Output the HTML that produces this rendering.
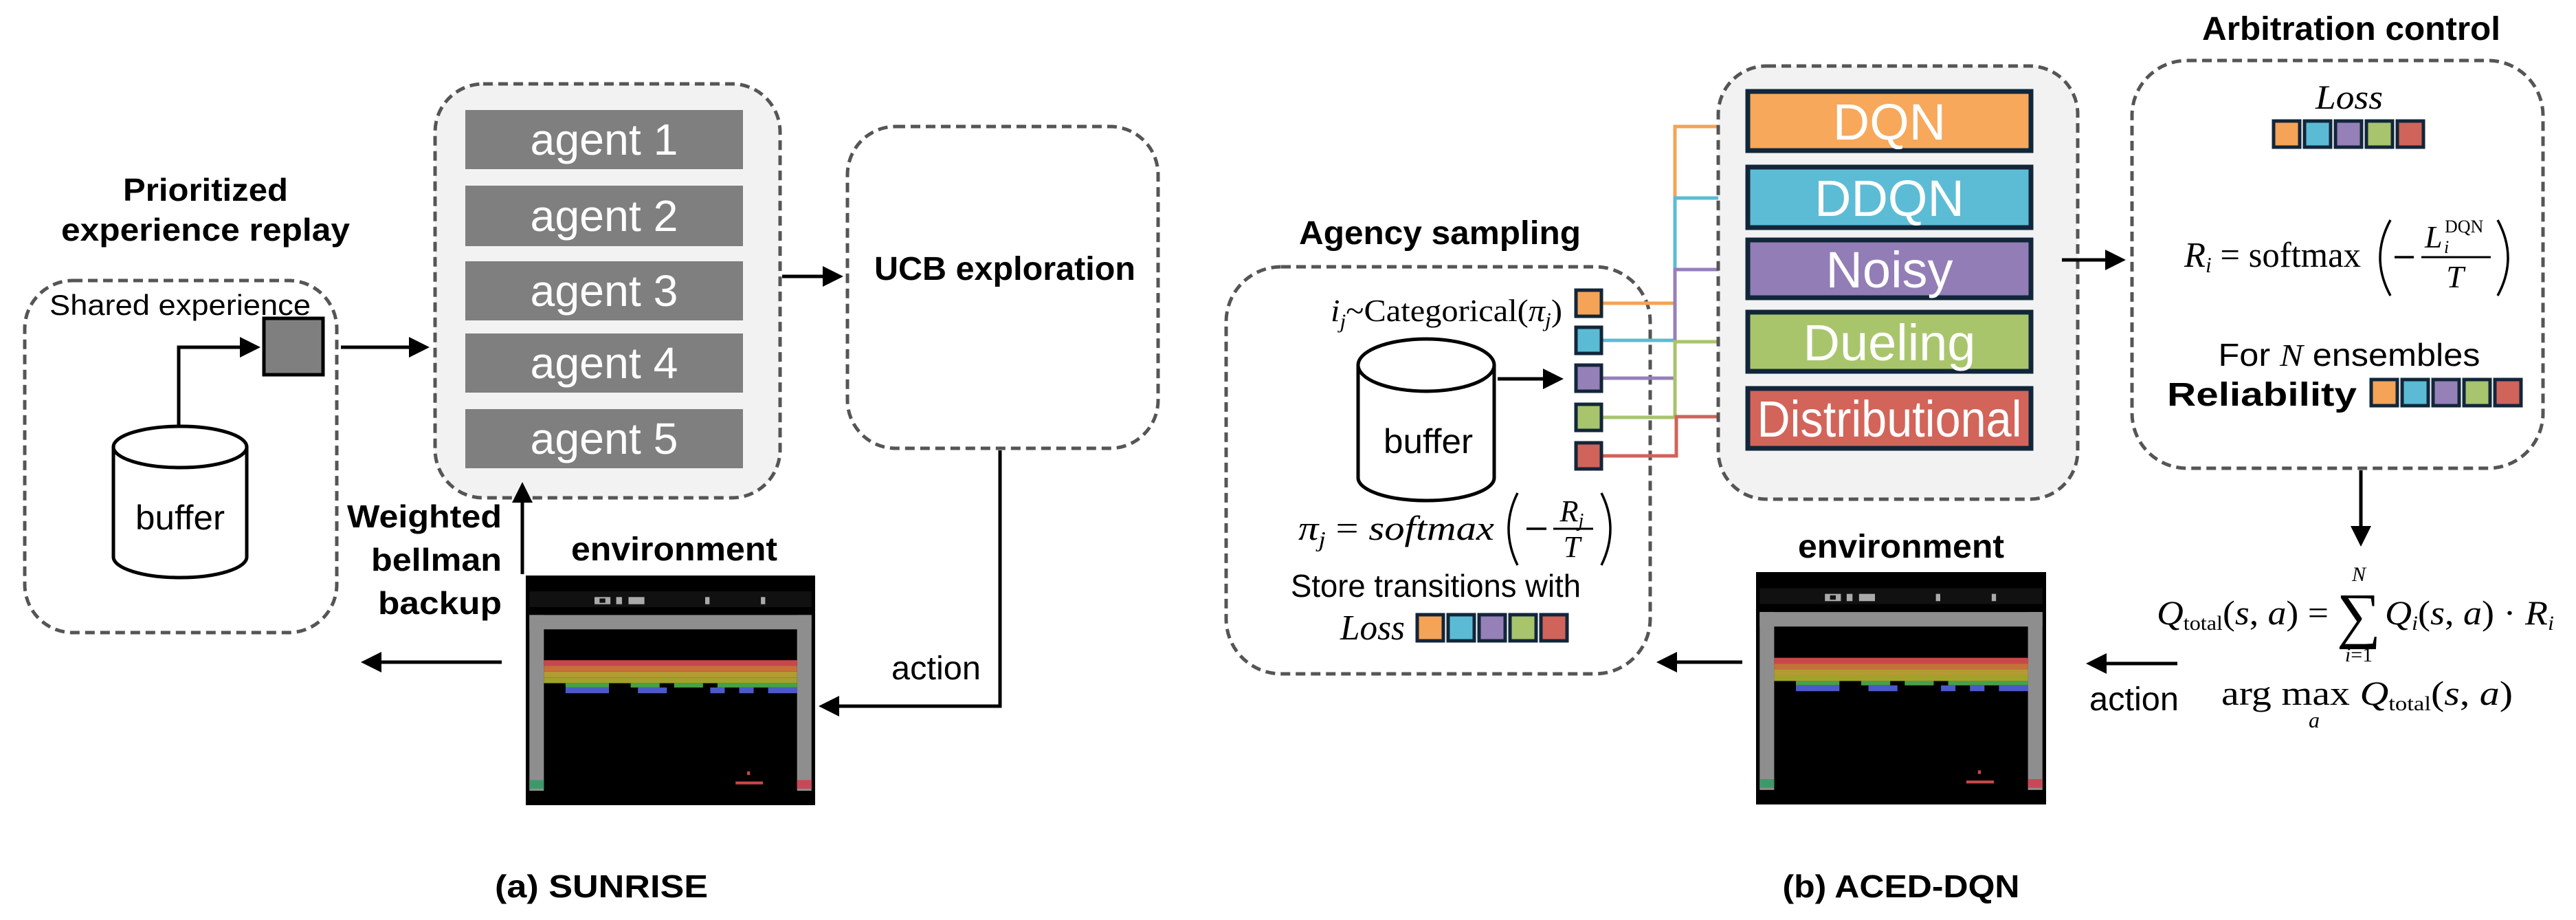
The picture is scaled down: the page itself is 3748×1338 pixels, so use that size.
<!DOCTYPE html>
<html><head><meta charset="utf-8"><style>
html,body{margin:0;padding:0;background:#fff;}
svg{display:block;}
text{font-family:"Liberation Sans",sans-serif;}
.b{font-weight:bold;}
.m{font-family:"Liberation Serif",serif;}
.i{font-style:italic;}
</style></head><body>
<svg width="3748" height="1338" viewBox="0 0 3748 1338" xmlns="http://www.w3.org/2000/svg">
<defs>
<marker id="ak" markerWidth="6" markerHeight="6" refX="5" refY="3" orient="auto" markerUnits="strokeWidth"><path d="M0,0 L6,3 L0,6 z" fill="#000"/></marker>
<marker id="ao" markerWidth="5" markerHeight="5" refX="4" refY="2.5" orient="auto" markerUnits="strokeWidth"><path d="M0,0 L5,2.5 L0,5 z" fill="#f5a356"/></marker>
<marker id="ab" markerWidth="5" markerHeight="5" refX="4" refY="2.5" orient="auto" markerUnits="strokeWidth"><path d="M0,0 L5,2.5 L0,5 z" fill="#5bbbd4"/></marker>
<marker id="ap" markerWidth="5" markerHeight="5" refX="4" refY="2.5" orient="auto" markerUnits="strokeWidth"><path d="M0,0 L5,2.5 L0,5 z" fill="#9580b8"/></marker>
<marker id="ag" markerWidth="5" markerHeight="5" refX="4" refY="2.5" orient="auto" markerUnits="strokeWidth"><path d="M0,0 L5,2.5 L0,5 z" fill="#a8c46c"/></marker>
<marker id="ar" markerWidth="5" markerHeight="5" refX="4" refY="2.5" orient="auto" markerUnits="strokeWidth"><path d="M0,0 L5,2.5 L0,5 z" fill="#d0635a"/></marker>
<symbol id="env" viewBox="0 0 400 320" preserveAspectRatio="none">
<rect width="400" height="320" fill="#000"/>
<rect x="5" y="22" width="390" height="22" fill="#111"/>
<g fill="#aaa"><rect x="95" y="30" width="22" height="10"/><rect x="102" y="32" width="8" height="6" fill="#111"/><rect x="125" y="30" width="8" height="10"/><rect x="142" y="30" width="22" height="10"/><rect x="248" y="30" width="6" height="10"/><rect x="325" y="30" width="6" height="10"/></g>
<rect x="5" y="55" width="390" height="20" fill="#8e8e8e"/>
<rect x="5" y="55" width="20" height="245" fill="#8e8e8e"/>
<rect x="375" y="55" width="20" height="245" fill="#8e8e8e"/>
<rect x="25" y="118" width="350" height="8" fill="#c8484a"/>
<rect x="25" y="126" width="350" height="8" fill="#c6703a"/>
<rect x="25" y="134" width="350" height="8" fill="#b49a32"/>
<rect x="25" y="142" width="350" height="8" fill="#a2a22a"/>
<path d="M25,150 h30 v6 h60 v-6 h30 v6 h40 v-6 h20 v6 h40 v-6 h20 v6 h110 v-6 h-350z" fill="#48a048"/>
<g fill="#4a5ac8"><rect x="55" y="156" width="60" height="8"/><rect x="155" y="156" width="40" height="8"/><rect x="255" y="156" width="20" height="8"/><rect x="295" y="156" width="20" height="8"/><rect x="335" y="156" width="40" height="8"/></g>
<rect x="5" y="285" width="20" height="12" fill="#3c9a6a"/>
<rect x="375" y="285" width="20" height="12" fill="#c84858"/>
<rect x="290" y="287" width="38" height="4" fill="#c84848"/>
<rect x="306" y="273" width="4" height="5" fill="#c84848"/>
</symbol>
</defs>

<!-- ===== (a) SUNRISE ===== -->
<text x="299" y="292" class="b" font-size="46" text-anchor="middle" textLength="240" lengthAdjust="spacingAndGlyphs">Prioritized</text>
<text x="299" y="350" class="b" font-size="46" text-anchor="middle" textLength="420" lengthAdjust="spacingAndGlyphs">experience replay</text>
<rect x="36" y="408" width="454" height="512" rx="70" fill="none" stroke="#555" stroke-width="5" stroke-dasharray="14,8"/>
<text x="262" y="458" font-size="42" text-anchor="middle" textLength="380" lengthAdjust="spacingAndGlyphs">Shared experience</text>
<rect x="384" y="463" width="86" height="82" fill="#7f7f7f" stroke="#000" stroke-width="5"/>
<path d="M260,620 V505 H374" fill="none" stroke="#000" stroke-width="5" marker-end="url(#ak)"/>
<path d="M165,650 V810 A97,30 0 0 0 359,810 V650" fill="#fff" stroke="#000" stroke-width="5"/>
<ellipse cx="262" cy="650" rx="97" ry="30" fill="#fff" stroke="#000" stroke-width="5"/>
<text x="262" y="770" font-size="50" text-anchor="middle" textLength="130" lengthAdjust="spacingAndGlyphs">buffer</text>
<line x1="496" y1="505" x2="620" y2="505" stroke="#000" stroke-width="5" marker-end="url(#ak)"/>

<rect x="633" y="122" width="502" height="602" rx="70" fill="#f2f2f2" stroke="#555" stroke-width="5" stroke-dasharray="14,8"/>
<g fill="#7f7f7f"><rect x="677" y="160" width="404" height="86"/><rect x="677" y="270" width="404" height="88"/><rect x="677" y="380" width="404" height="86"/><rect x="677" y="485" width="404" height="86"/><rect x="677" y="595" width="404" height="86"/></g>
<g fill="#fff" font-size="64" text-anchor="middle"><text x="879" y="225" textLength="215" lengthAdjust="spacingAndGlyphs">agent 1</text><text x="879" y="336" textLength="215" lengthAdjust="spacingAndGlyphs">agent 2</text><text x="879" y="445" textLength="215" lengthAdjust="spacingAndGlyphs">agent 3</text><text x="879" y="550" textLength="215" lengthAdjust="spacingAndGlyphs">agent 4</text><text x="879" y="660" textLength="215" lengthAdjust="spacingAndGlyphs">agent 5</text></g>
<line x1="1138" y1="402" x2="1222" y2="402" stroke="#000" stroke-width="5" marker-end="url(#ak)"/>
<rect x="1233" y="184" width="452" height="468" rx="70" fill="none" stroke="#555" stroke-width="5" stroke-dasharray="14,8"/>
<text x="1462" y="407" class="b" font-size="48" text-anchor="middle" textLength="380" lengthAdjust="spacingAndGlyphs">UCB exploration</text>
<path d="M1455,655 V1027 H1196" fill="none" stroke="#000" stroke-width="5" marker-end="url(#ak)"/>
<text x="1362" y="988" font-size="48" text-anchor="middle" textLength="130" lengthAdjust="spacingAndGlyphs">action</text>
<text x="981" y="815" class="b" font-size="48" text-anchor="middle" textLength="300" lengthAdjust="spacingAndGlyphs">environment</text>
<use href="#env" x="765" y="837" width="421" height="334"/>
<g class="b" font-size="46" text-anchor="end"><text x="730" y="767" textLength="225" lengthAdjust="spacingAndGlyphs">Weighted</text><text x="730" y="830" textLength="190" lengthAdjust="spacingAndGlyphs">bellman</text><text x="730" y="893" textLength="180" lengthAdjust="spacingAndGlyphs">backup</text></g>
<line x1="760" y1="835" x2="760" y2="706" stroke="#000" stroke-width="5" marker-end="url(#ak)"/>
<line x1="730" y1="963" x2="530" y2="963" stroke="#000" stroke-width="5" marker-end="url(#ak)"/>
<text x="875" y="1305" class="b" font-size="46" text-anchor="middle" textLength="310" lengthAdjust="spacingAndGlyphs">(a) SUNRISE</text>

<!-- ===== (b) ACED-DQN ===== -->
<text x="2095" y="355" class="b" font-size="48" text-anchor="middle" textLength="410" lengthAdjust="spacingAndGlyphs">Agency sampling</text>
<rect x="1784" y="388" width="617" height="592" rx="80" fill="none" stroke="#555" stroke-width="5" stroke-dasharray="14,8"/>
<text x="1936" y="467" class="m" font-size="46" textLength="337" lengthAdjust="spacingAndGlyphs"><tspan class="i">i</tspan><tspan font-size="30" dy="10" class="i">j</tspan><tspan dy="-10">~Categorical(</tspan><tspan class="i">π</tspan><tspan font-size="30" dy="8" class="i">j</tspan><tspan dy="-8">)</tspan></text>
<path d="M1976,531 V695 A99,33 0 0 0 2174,695 V531" fill="#fff" stroke="#000" stroke-width="5"/>
<ellipse cx="2075" cy="531" rx="99" ry="38" fill="#fff" stroke="#000" stroke-width="5"/>
<text x="2078" y="659" font-size="50" text-anchor="middle" textLength="130" lengthAdjust="spacingAndGlyphs">buffer</text>
<line x1="2179" y1="551" x2="2270" y2="551" stroke="#000" stroke-width="5" marker-end="url(#ak)"/>
<g fill="none" stroke-width="5">
<path d="M2330,441 H2437 V184 H2530" stroke="#f5a356" marker-end="url(#ao)"/>
<path d="M2330,495 H2437 V288 H2530" stroke="#5bbbd4" marker-end="url(#ab)"/>
<path d="M2330,550 H2437 V392 H2530" stroke="#9580b8" marker-end="url(#ap)"/>
<path d="M2330,607 H2437 V497 H2530" stroke="#a8c46c" marker-end="url(#ag)"/>
<path d="M2330,663 H2439 V606 H2530" stroke="#d0635a" marker-end="url(#ar)"/>
</g>
<g stroke="#12263a" stroke-width="5">
<rect x="2293" y="422" width="37" height="38" fill="#f5a356"/>
<rect x="2293" y="476" width="37" height="38" fill="#5bbbd4"/>
<rect x="2293" y="531" width="37" height="38" fill="#9580b8"/>
<rect x="2293" y="588" width="37" height="38" fill="#a8c46c"/>
<rect x="2293" y="644" width="37" height="38" fill="#d0635a"/>
</g>
<text x="1889" y="785" class="m i" font-size="50" textLength="285" lengthAdjust="spacingAndGlyphs">π<tspan font-size="32" dy="10">j</tspan><tspan dy="-10" font-style="normal"> = </tspan>softmax</text>
<path d="M2208,717 Q2182,769 2208,822" fill="none" stroke="#000" stroke-width="3.5"/>
<line x1="2221" y1="769" x2="2250" y2="769" stroke="#000" stroke-width="3.5"/>
<text x="2287" y="758" class="m i" font-size="44" text-anchor="middle">R<tspan font-size="28" dy="8">j</tspan></text>
<line x1="2260" y1="769" x2="2318" y2="769" stroke="#000" stroke-width="3"/>
<text x="2287" y="810" class="m i" font-size="44" text-anchor="middle">T</text>
<path d="M2330,717 Q2356,769 2330,822" fill="none" stroke="#000" stroke-width="3.5"/>
<text x="2089" y="868" font-size="46" text-anchor="middle" textLength="422" lengthAdjust="spacingAndGlyphs">Store transitions with</text>
<text x="1950" y="930" class="m i" font-size="52" textLength="94" lengthAdjust="spacingAndGlyphs">Loss</text>
<g stroke="#12263a" stroke-width="5">
<rect x="2062" y="894" width="38" height="38" fill="#f5a356"/>
<rect x="2107" y="894" width="38" height="38" fill="#5bbbd4"/>
<rect x="2152" y="894" width="38" height="38" fill="#9580b8"/>
<rect x="2197" y="894" width="38" height="38" fill="#a8c46c"/>
<rect x="2242" y="894" width="38" height="38" fill="#d0635a"/>
</g>

<rect x="2500" y="96" width="523" height="630" rx="70" fill="#f2f2f2" stroke="#555" stroke-width="5" stroke-dasharray="14,8"/>
<g stroke="#12263a" stroke-width="7">
<rect x="2543" y="133" width="412" height="86" fill="#f7a85a"/>
<rect x="2543" y="243" width="412" height="88" fill="#5dbcd5"/>
<rect x="2543" y="349" width="412" height="84" fill="#937db6"/>
<rect x="2543" y="454" width="412" height="86" fill="#a9c56c"/>
<rect x="2543" y="565" width="412" height="87" fill="#d2645a"/>
</g>
<g fill="#fff" font-size="74" text-anchor="middle">
<text x="2749" y="203">DQN</text><text x="2749" y="314">DDQN</text><text x="2749" y="418">Noisy</text><text x="2749" y="524">Dueling</text><text x="2749" y="635" textLength="385" lengthAdjust="spacingAndGlyphs">Distributional</text>
</g>
<line x1="3000" y1="378" x2="3088" y2="378" stroke="#000" stroke-width="5" marker-end="url(#ak)"/>
<text x="3421" y="58" class="b" font-size="48" text-anchor="middle" textLength="434" lengthAdjust="spacingAndGlyphs">Arbitration control</text>
<rect x="3102" y="88" width="598" height="593" rx="80" fill="none" stroke="#555" stroke-width="5" stroke-dasharray="14,8"/>
<text x="3418" y="158" class="m i" font-size="50" text-anchor="middle" textLength="98" lengthAdjust="spacingAndGlyphs">Loss</text>
<g stroke="#12263a" stroke-width="5">
<rect x="3308" y="176" width="38" height="38" fill="#f5a356"/>
<rect x="3353" y="176" width="38" height="38" fill="#5bbbd4"/>
<rect x="3398" y="176" width="38" height="38" fill="#9580b8"/>
<rect x="3443" y="176" width="38" height="38" fill="#a8c46c"/>
<rect x="3488" y="176" width="38" height="38" fill="#d0635a"/>
</g>
<text x="3178" y="388" class="m" font-size="52" textLength="257" lengthAdjust="spacingAndGlyphs"><tspan class="i">R</tspan><tspan class="i" font-size="32" dy="8">i</tspan><tspan dy="-8"> = softmax</tspan></text>
<path d="M3478,320 Q3448,375 3478,430" fill="none" stroke="#000" stroke-width="3.5"/>
<line x1="3484" y1="374" x2="3512" y2="374" stroke="#000" stroke-width="3.5"/>
<text x="3528" y="360" class="m i" font-size="46">L</text>
<text x="3557" y="338" class="m" font-size="26">DQN</text>
<text x="3556" y="368" class="m i" font-size="26">i</text>
<line x1="3523" y1="374" x2="3624" y2="374" stroke="#000" stroke-width="3"/>
<text x="3572" y="418" class="m i" font-size="46" text-anchor="middle">T</text>
<path d="M3634,320 Q3664,375 3634,430" fill="none" stroke="#000" stroke-width="3.5"/>
<text x="3418" y="532" font-size="46" text-anchor="middle" textLength="381" lengthAdjust="spacingAndGlyphs">For <tspan class="m i">N</tspan> ensembles</text>
<text x="3153" y="590" class="b" font-size="48" textLength="276" lengthAdjust="spacingAndGlyphs">Reliability</text>
<g stroke="#12263a" stroke-width="5">
<rect x="3450" y="552" width="38" height="38" fill="#f5a356"/>
<rect x="3495" y="552" width="38" height="38" fill="#5bbbd4"/>
<rect x="3540" y="552" width="38" height="38" fill="#9580b8"/>
<rect x="3585" y="552" width="38" height="38" fill="#a8c46c"/>
<rect x="3630" y="552" width="38" height="38" fill="#d0635a"/>
</g>
<line x1="3435" y1="684" x2="3435" y2="790" stroke="#000" stroke-width="5" marker-end="url(#ak)"/>
<text x="3138" y="908" class="m" font-size="50" textLength="250" lengthAdjust="spacingAndGlyphs"><tspan class="i">Q</tspan><tspan font-size="30" dy="8">total</tspan><tspan dy="-8">(</tspan><tspan class="i">s</tspan>, <tspan class="i">a</tspan>) =</text>
<text x="3432" y="925" class="m" font-size="90" text-anchor="middle">∑</text>
<text x="3432" y="845" class="m i" font-size="30" text-anchor="middle">N</text>
<text x="3432" y="962" class="m" font-size="30" text-anchor="middle"><tspan class="i">i</tspan>=1</text>
<text x="3470" y="908" class="m" font-size="50" textLength="246" lengthAdjust="spacingAndGlyphs"><tspan class="i">Q</tspan><tspan class="i" font-size="30" dy="8">i</tspan><tspan dy="-8">(</tspan><tspan class="i">s</tspan>, <tspan class="i">a</tspan>) · <tspan class="i">R</tspan><tspan class="i" font-size="30" dy="8">i</tspan></text>
<text x="3232" y="1025" class="m" font-size="50" textLength="424" lengthAdjust="spacingAndGlyphs">arg max <tspan class="i">Q</tspan><tspan font-size="30" dy="8">total</tspan><tspan dy="-8">(</tspan><tspan class="i">s</tspan>, <tspan class="i">a</tspan>)</text>
<text x="3367" y="1058" class="m i" font-size="32" text-anchor="middle">a</text>
<line x1="3168" y1="965" x2="3040" y2="965" stroke="#000" stroke-width="5" marker-end="url(#ak)"/>
<text x="3105" y="1033" font-size="48" text-anchor="middle" textLength="130" lengthAdjust="spacingAndGlyphs">action</text>
<text x="2766" y="811" class="b" font-size="48" text-anchor="middle" textLength="300" lengthAdjust="spacingAndGlyphs">environment</text>
<use href="#env" x="2555" y="832" width="422" height="338"/>
<line x1="2535" y1="963" x2="2415" y2="963" stroke="#000" stroke-width="5" marker-end="url(#ak)"/>
<text x="2766" y="1305" class="b" font-size="46" text-anchor="middle" textLength="345" lengthAdjust="spacingAndGlyphs">(b) ACED-DQN</text>
</svg>
</body></html>
